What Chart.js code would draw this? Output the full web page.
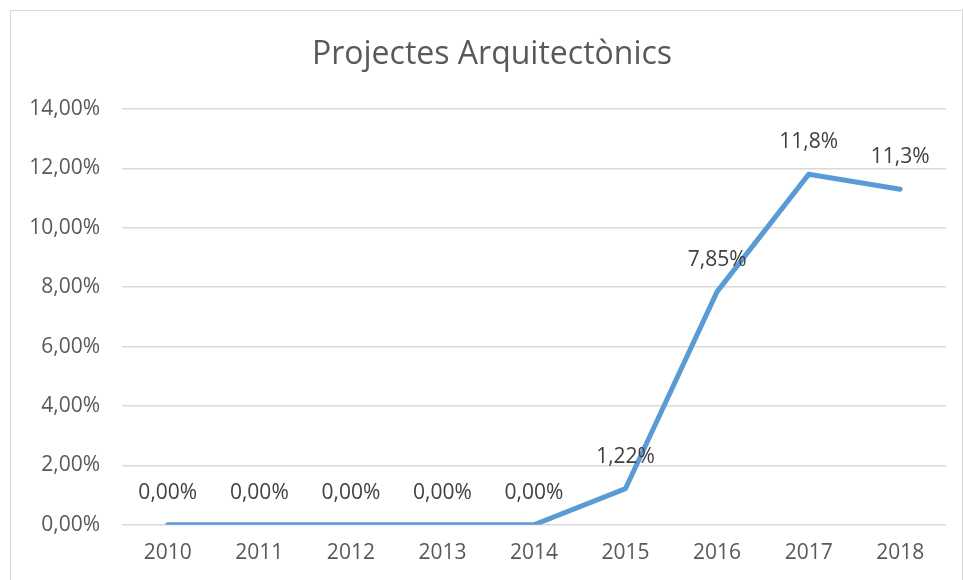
<!DOCTYPE html>
<html>
<head>
<meta charset="utf-8">
<script src="https://cdn.jsdelivr.net/npm/chart.js@4"></script>
<style>
    html, body { margin: 0; padding: 0; background: #ffffff; }
    #wrap { width: 964px; height: 580px; position: relative; }
</style>
</head>
<body>
<div id="wrap"><canvas id="lineChart"></canvas></div>
<script>

/*
=================================
DATA
=================================
*/

const years = [
    "2010", "2011", "2012", "2013", "2014",
    "2015", "2016", "2017", "2018"
];

const percentValues = [
    0, 0, 0, 0, 0,
    1.22, 7.85, 11.8, 11.3
];

const valueLabels = [
    "0,00%", "0,00%", "0,00%", "0,00%", "0,00%",
    "1,22%", "7,85%", "11,8%", "11,3%"
];

const chartTitle = "Projectes Arquitectònics";

const FONT = "'Open Sans', 'Noto Sans', sans-serif";

/*
=================================
PLUGINS
=================================
*/

// light frame around the whole chart, title centred inside it
const framePlugin = {
    id: "frame",
    beforeDraw(chart){
        const ctx = chart.ctx;
        ctx.save();
        ctx.strokeStyle = "#d9d9d9";
        ctx.lineWidth = 1;
        ctx.strokeRect(10.5, 10.5, chart.width - 12, chart.height + 20);

        ctx.font = "32px " + FONT;
        ctx.fillStyle = "#595959";
        ctx.textAlign = "center";
        ctx.textBaseline = "middle";
        ctx.fillText(chartTitle, (chart.width + 20) / 2, 55);
        ctx.restore();
    }
};

// value text above each point
const valueLabelPlugin = {
    id: "valueLabels",
    afterDatasetsDraw(chart){
        const ctx = chart.ctx;
        const meta = chart.getDatasetMeta(0);
        ctx.save();
        ctx.font = "21px " + FONT;
        ctx.fillStyle = "#404040";
        ctx.textAlign = "center";
        ctx.textBaseline = "middle";
        meta.data.forEach((pt, i) => {
            ctx.fillText(valueLabels[i], pt.x, pt.y - 32);
        });
        ctx.restore();
    }
};

/*
=================================
LINE CHART
=================================
*/

new Chart(document.getElementById("lineChart"), {

    type: "line",

    data: {
        labels: years,
        datasets: [{
            data: percentValues,
            borderColor: "#5b9bd5",
            borderWidth: 5,
            borderCapStyle: "round",
            borderJoinStyle: "round",
            pointRadius: 0,
            tension: 0
        }]
    },

    options: {
        responsive: true,
        maintainAspectRatio: false,
        animation: false,
        layout: {
            padding: { left: 0, right: 18, top: 109, bottom: 6 }
        },
        plugins: {
            legend: { display: false },
            tooltip: { enabled: false },
            title: { display: false }
        },
        scales: {
            x: {
                offset: true,
                grid: { display: false },
                border: { display: false },
                ticks: {
                    color: "#595959",
                    font: { family: FONT, size: 21 },
                    padding: 8,
                    maxRotation: 0
                }
            },
            y: {
                min: 0,
                max: 14,
                grid: {
                    color: "#d9d9d9",
                    lineWidth: 1.5,
                    drawTicks: false
                },
                border: { display: false },
                afterFit(scale){
                    scale.width = 122;
                },
                ticks: {
                    stepSize: 2,
                    color: "#595959",
                    font: { family: FONT, size: 21 },
                    padding: 22,
                    callback: v => v.toFixed(2).replace(".", ",") + "%"
                }
            }
        }
    },

    plugins: [framePlugin, valueLabelPlugin]
});

</script>
</body>
</html>
